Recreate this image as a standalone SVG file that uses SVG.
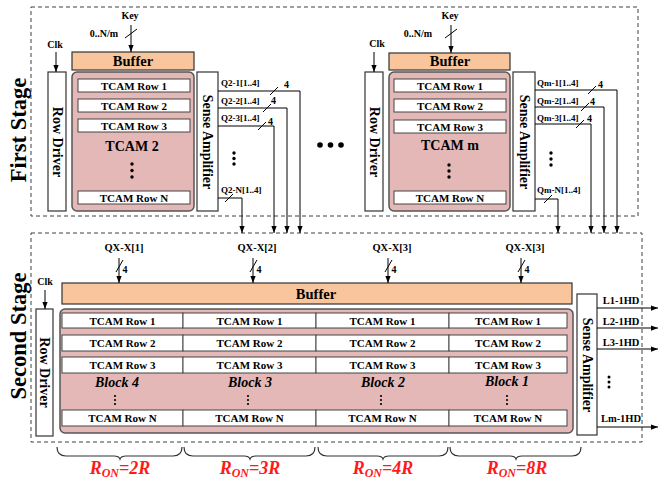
<svg xmlns="http://www.w3.org/2000/svg" width="659" height="483" viewBox="0 0 659 483">
<defs>
<marker id="ah" viewBox="0 0 8 6" refX="8" refY="3" markerWidth="7" markerHeight="5.5" markerUnits="userSpaceOnUse" orient="auto">
<path d="M0,0 L8,3 L0,6 z" fill="#000"/>
</marker>
<style>
text{font-family:"Liberation Serif","Times New Roman",serif;font-weight:bold;fill:#000}
.stage{font-size:22.5px}
.dash{fill:none;stroke:#404040;stroke-width:1;stroke-dasharray:4 3}
.buf{fill:#F8C59C;stroke:#333;stroke-width:1.2}
.pink{fill:#E4B8B7;stroke:#555;stroke-width:1.5}
.box{fill:#fff;stroke:#333;stroke-width:1.2}
.row{fill:#fff;stroke:#444;stroke-width:1}
.rt{font-size:11px;text-anchor:middle}
.vt{font-size:14px;text-anchor:middle}
.bt{font-size:14.5px;text-anchor:middle}
.big{font-size:14px;text-anchor:middle}
.sm{font-size:10px}
.q{font-size:9px}
.qx{font-size:10.5px;text-anchor:middle}
.blk{font-size:14px;font-style:italic;text-anchor:middle}
.ron{font-size:18px;font-style:italic;fill:#FF1A1A;text-anchor:middle}
.ln{fill:none;stroke:#000;stroke-width:1}
.ar{fill:none;stroke:#000;stroke-width:1;marker-end:url(#ah)}
.br{fill:none;stroke:#333;stroke-width:1.2}
.dot{fill:#000}
</style>
</defs>
<rect width="659" height="483" fill="#fff"/>

<!-- stage frames -->
<g id="first-stage">
<rect class="dash" x="31" y="7" width="607" height="209"/>
<text class="stage" transform="translate(25.5,130) rotate(-90)" text-anchor="middle">First Stage</text>
</g>
<g id="second-stage">
<rect class="dash" x="31" y="233" width="611" height="209"/>
<text class="stage" transform="translate(25.5,336) rotate(-90)" text-anchor="middle">Second Stage</text>
</g>

<!-- First stage, TCAM 2 -->
<g id="tcam2">
<rect class="buf" x="72" y="52" width="122" height="18"/>
<text class="bt" x="133" y="66">Buffer</text>
<rect class="box" x="48" y="72" width="18" height="139"/>
<text class="vt" transform="translate(52.5,142) rotate(90)">Row Driver</text>
<rect class="pink" x="72" y="72" width="122" height="139" rx="5"/>
<rect class="row" x="78" y="79" width="112" height="13"/><text class="rt" x="134" y="89.5">TCAM Row 1</text>
<rect class="row" x="78" y="99" width="112" height="13"/><text class="rt" x="134" y="109.5">TCAM Row 2</text>
<rect class="row" x="78" y="119" width="112" height="13"/><text class="rt" x="134" y="129.5">TCAM Row 3</text>
<text class="big" x="132" y="151">TCAM 2</text>
<circle class="dot" cx="132" cy="164" r="1.7"/><circle class="dot" cx="132" cy="170.5" r="1.7"/><circle class="dot" cx="132" cy="177" r="1.7"/>
<rect class="row" x="78" y="191" width="112" height="13"/><text class="rt" x="134" y="201.5">TCAM Row N</text>
<rect class="box" x="197" y="72" width="21" height="139"/>
<text class="vt" transform="translate(203,142) rotate(90)">Sense Amplifier</text>
<text class="sm" x="130" y="19" text-anchor="middle">Key</text>
<text class="sm" x="104" y="37" text-anchor="middle">0..N/m</text>
<text class="sm" x="55" y="48" text-anchor="middle">Clk</text>
<text class="q" x="221" y="86">Q2-1[1..4]</text>
<text class="q" x="221" y="104">Q2-2[1..4]</text>
<text class="q" x="221" y="121">Q2-3[1..4]</text>
<text class="q" x="221" y="193">Q2-N[1..4]</text>
<text class="sm" x="284" y="88">4</text>
<text class="sm" x="271" y="104">4</text>
<text class="sm" x="268" y="125">4</text>
<circle class="dot" cx="234" cy="153" r="1.7"/><circle class="dot" cx="234" cy="158.5" r="1.7"/><circle class="dot" cx="234" cy="164" r="1.7"/>
</g>

<!-- ellipsis between stages blocks -->
<g id="ellipsis">
<circle class="dot" cx="320" cy="145" r="2.8"/><circle class="dot" cx="330.5" cy="145" r="2.8"/><circle class="dot" cx="341" cy="145" r="2.8"/>
</g>

<!-- First stage, TCAM m -->
<g id="tcamm">
<rect class="buf" x="389" y="53" width="121" height="17"/>
<text class="bt" x="450" y="66">Buffer</text>
<rect class="box" x="365" y="72" width="18" height="139"/>
<text class="vt" transform="translate(369.5,142) rotate(90)">Row Driver</text>
<rect class="pink" x="389" y="72" width="121" height="139" rx="5"/>
<rect class="row" x="394" y="79" width="112" height="13"/><text class="rt" x="450" y="89.5">TCAM Row 1</text>
<rect class="row" x="394" y="99" width="112" height="13"/><text class="rt" x="450" y="109.5">TCAM Row 2</text>
<rect class="row" x="394" y="120" width="112" height="13"/><text class="rt" x="450" y="130.5">TCAM Row 3</text>
<text class="big" x="450" y="150">TCAM m</text>
<circle class="dot" cx="449" cy="165" r="1.7"/><circle class="dot" cx="449" cy="171" r="1.7"/><circle class="dot" cx="449" cy="177" r="1.7"/>
<rect class="row" x="394" y="191" width="112" height="13"/><text class="rt" x="450" y="201.5">TCAM Row N</text>
<rect class="box" x="513" y="72" width="22" height="139"/>
<text class="vt" transform="translate(519.5,142) rotate(90)">Sense Amplifier</text>
<text class="sm" x="450" y="19" text-anchor="middle">Key</text>
<text class="sm" x="418" y="37" text-anchor="middle">0..N/m</text>
<text class="sm" x="377" y="47" text-anchor="middle">Clk</text>
<text class="q" x="537" y="86">Qm-1[1..4]</text>
<text class="q" x="537" y="104">Qm-2[1..4]</text>
<text class="q" x="537" y="121">Qm-3[1..4]</text>
<text class="q" x="537" y="193">Qm-N[1..4]</text>
<text class="sm" x="598" y="88">4</text>
<text class="sm" x="590" y="105">4</text>
<text class="sm" x="587" y="122">4</text>
<circle class="dot" cx="551" cy="153" r="1.7"/><circle class="dot" cx="551" cy="159" r="1.7"/><circle class="dot" cx="551" cy="165" r="1.7"/>
</g>

<!-- Second stage -->
<g id="stage2-buffer">
<rect class="buf" x="62" y="283" width="510" height="21"/>
<text class="bt" x="316" y="298.5">Buffer</text>
</g>
<g id="stage2-rowdriver">
<rect class="box" x="36" y="309" width="17" height="127"/>
<text class="vt" transform="translate(40,372.5) rotate(90)">Row Driver</text>
<text class="sm" x="45" y="285" text-anchor="middle">Clk</text>
</g>
<g id="stage2-array">
<rect class="pink" x="60" y="309" width="513" height="124" rx="5"/>
<g id="block4">
<rect class="row" x="62" y="313" width="121" height="15"/><text class="rt" x="122.5" y="324.5">TCAM Row 1</text>
<rect class="row" x="62" y="335" width="121" height="16"/><text class="rt" x="122.5" y="347">TCAM Row 2</text>
<rect class="row" x="62" y="357" width="121" height="16"/><text class="rt" x="122.5" y="369">TCAM Row 3</text>
<text class="blk" x="117" y="387">Block 4</text>
<circle class="dot" cx="115" cy="396" r="1.1"/><circle class="dot" cx="115" cy="400" r="1.1"/><circle class="dot" cx="115" cy="404" r="1.1"/>
<rect class="row" x="62" y="410" width="121" height="16"/><text class="rt" x="122.5" y="422">TCAM Row N</text>
</g>
<g id="block3">
<rect class="row" x="183" y="313" width="133" height="15"/><text class="rt" x="249.5" y="324.5">TCAM Row 1</text>
<rect class="row" x="183" y="335" width="133" height="16"/><text class="rt" x="249.5" y="347">TCAM Row 2</text>
<rect class="row" x="183" y="357" width="133" height="16"/><text class="rt" x="249.5" y="369">TCAM Row 3</text>
<text class="blk" x="250" y="387">Block 3</text>
<circle class="dot" cx="248" cy="396" r="1.1"/><circle class="dot" cx="248" cy="400" r="1.1"/><circle class="dot" cx="248" cy="404" r="1.1"/>
<rect class="row" x="183" y="410" width="133" height="16"/><text class="rt" x="249.5" y="422">TCAM Row N</text>
</g>
<g id="block2">
<rect class="row" x="316" y="313" width="133" height="15"/><text class="rt" x="382.5" y="324.5">TCAM Row 1</text>
<rect class="row" x="316" y="335" width="133" height="16"/><text class="rt" x="382.5" y="347">TCAM Row 2</text>
<rect class="row" x="316" y="357" width="133" height="16"/><text class="rt" x="382.5" y="369">TCAM Row 3</text>
<text class="blk" x="383" y="387">Block 2</text>
<circle class="dot" cx="381" cy="396" r="1.1"/><circle class="dot" cx="381" cy="400" r="1.1"/><circle class="dot" cx="381" cy="404" r="1.1"/>
<rect class="row" x="316" y="410" width="133" height="16"/><text class="rt" x="382.5" y="422">TCAM Row N</text>
</g>
<g id="block1">
<rect class="row" x="449" y="313" width="118" height="15"/><text class="rt" x="508" y="324.5">TCAM Row 1</text>
<rect class="row" x="449" y="335" width="118" height="16"/><text class="rt" x="508" y="347">TCAM Row 2</text>
<rect class="row" x="449" y="357" width="118" height="16"/><text class="rt" x="508" y="369">TCAM Row 3</text>
<text class="blk" x="507" y="386">Block 1</text>
<circle class="dot" cx="507" cy="396" r="1.1"/><circle class="dot" cx="507" cy="400" r="1.1"/><circle class="dot" cx="507" cy="404" r="1.1"/>
<rect class="row" x="449" y="410" width="118" height="16"/><text class="rt" x="508" y="422">TCAM Row N</text>
</g>
</g>
<g id="stage2-sense">
<rect class="box" x="577" y="294" width="20" height="141"/>
<text class="vt" transform="translate(582.5,365) rotate(90)">Sense Amplifier</text>
<text class="qx" x="621" y="304">L1-1HD</text>
<text class="qx" x="621" y="325">L2-1HD</text>
<text class="qx" x="621" y="346">L3-1HD</text>
<text class="qx" x="621" y="422">Lm-1HD</text>
<circle class="dot" cx="609" cy="377" r="1.5"/><circle class="dot" cx="609" cy="382" r="1.5"/><circle class="dot" cx="609" cy="387" r="1.5"/>
</g>
<g id="stage2-inputs">
<text class="qx" x="124" y="251">QX-X[1]</text>
<text class="qx" x="257" y="251">QX-X[2]</text>
<text class="qx" x="392" y="251">QX-X[3]</text>
<text class="qx" x="525" y="251">QX-X[3]</text>
<text class="sm" x="122.5" y="273">4</text>
<text class="sm" x="256.5" y="273">4</text>
<text class="sm" x="391.5" y="273">4</text>
<text class="sm" x="524.5" y="273">4</text>
</g>

<!-- braces and resistance labels -->
<g id="ron-labels">
<path class="br" d="M57,447 Q57,456 66,456 L114,456 Q119,456 120,459 Q121,456 126,456 L173,456 Q182,456 182,447"/>
<path class="br" d="M184,447 Q184,456 193,456 L244,456 Q249,456 250,459 Q251,456 256,456 L306,456 Q315,456 315,447"/>
<path class="br" d="M318,447 Q318,456 327,456 L377,456 Q382,456 383,459 Q384,456 389,456 L439,456 Q448,456 448,447"/>
<path class="br" d="M450,447 Q450,456 459,456 L510,456 Q515,456 516,459 Q517,456 522,456 L572,456 Q581,456 581,447"/>
<text class="ron" x="120" y="474">R<tspan font-size="12" dy="3">ON</tspan><tspan dy="-3">=2R</tspan></text>
<text class="ron" x="250" y="474">R<tspan font-size="12" dy="3">ON</tspan><tspan dy="-3">=3R</tspan></text>
<text class="ron" x="383" y="474">R<tspan font-size="12" dy="3">ON</tspan><tspan dy="-3">=4R</tspan></text>
<text class="ron" x="517" y="474">R<tspan font-size="12" dy="3">ON</tspan><tspan dy="-3">=8R</tspan></text>
</g>

<!-- connectors -->
<g id="connectors">
<line class="ar" x1="131" y1="25" x2="131" y2="52"/>
<line class="ln" x1="125" y1="38" x2="137" y2="29"/>
<line class="ar" x1="56" y1="52" x2="56" y2="72"/>
<polyline class="ar" points="218,91 300,91 300,233"/>
<polyline class="ar" points="218,108 287,108 287,233"/>
<polyline class="ar" points="218,126 274,126 274,233"/>
<polyline class="ar" points="218,198 242,198 242,233"/>
<line class="ln" x1="270" y1="95" x2="278" y2="87"/>
<line class="ln" x1="263" y1="112" x2="271" y2="104"/>
<line class="ln" x1="258" y1="130" x2="266" y2="122"/>
<line class="ln" x1="225" y1="202" x2="233" y2="194"/>

<line class="ar" x1="451" y1="25" x2="451" y2="53"/>
<line class="ln" x1="445" y1="38" x2="457" y2="29"/>
<line class="ar" x1="374" y1="52" x2="374" y2="72"/>
<polyline class="ar" points="535,90 617,90 617,233"/>
<polyline class="ar" points="535,107 604,107 604,233"/>
<polyline class="ar" points="535,124 591,124 591,233"/>
<polyline class="ar" points="535,199 558,199 558,233"/>
<line class="ln" x1="588" y1="94" x2="596" y2="86"/>
<line class="ln" x1="581" y1="111" x2="589" y2="103"/>
<line class="ln" x1="576" y1="128" x2="584" y2="120"/>
<line class="ln" x1="544" y1="203" x2="552" y2="195"/>

<line class="ar" x1="119" y1="258" x2="119" y2="283"/>
<line class="ln" x1="116" y1="272" x2="123" y2="260"/>
<line class="ar" x1="253" y1="258" x2="253" y2="283"/>
<line class="ln" x1="250" y1="272" x2="257" y2="260"/>
<line class="ar" x1="388" y1="258" x2="388" y2="283"/>
<line class="ln" x1="385" y1="272" x2="392" y2="260"/>
<line class="ar" x1="521" y1="258" x2="521" y2="283"/>
<line class="ln" x1="518" y1="272" x2="525" y2="260"/>
<line class="ar" x1="45" y1="290" x2="45" y2="309"/>

<line class="ar" x1="597" y1="308" x2="658" y2="308"/>
<line class="ar" x1="597" y1="328" x2="658" y2="328"/>
<line class="ar" x1="597" y1="349" x2="658" y2="349"/>
<line class="ar" x1="597" y1="427" x2="658" y2="427"/>
</g>
</svg>
